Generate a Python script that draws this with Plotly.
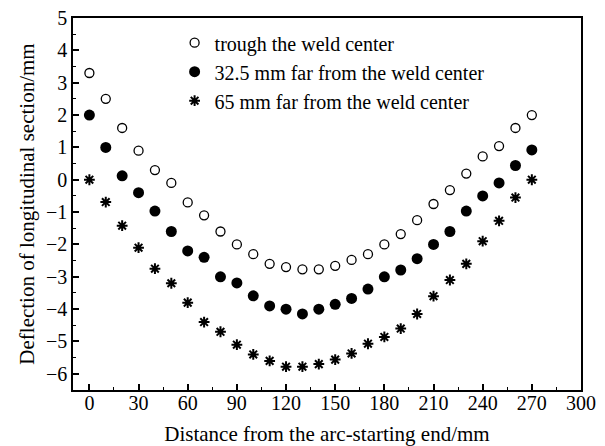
import plotly.graph_objects as go

# Distance from the arc-starting end (mm)
distance = list(range(0, 280, 10))

# Deflection of longitudinal section (mm)
through_center = [3.3, 2.5, 1.6, 0.9, 0.3, -0.1, -0.7, -1.1, -1.6, -2.0,
                  -2.3, -2.6, -2.7, -2.77, -2.77, -2.66, -2.48, -2.3, -2.0, -1.68,
                  -1.25, -0.75, -0.32, 0.19, 0.72, 1.04, 1.6, 2.0]
far_32_5 = [2.0, 1.0, 0.12, -0.4, -0.97, -1.6, -2.2, -2.4, -3.0, -3.19,
            -3.59, -3.9, -4.0, -4.15, -4.0, -3.85, -3.67, -3.38, -3.0, -2.79,
            -2.44, -2.0, -1.6, -0.97, -0.5, -0.1, 0.44, 0.92]
far_65 = [0.0, -0.69, -1.42, -2.1, -2.75, -3.2, -3.8, -4.4, -4.7, -5.1,
          -5.4, -5.6, -5.78, -5.78, -5.7, -5.56, -5.37, -5.07, -4.86, -4.6,
          -4.15, -3.6, -3.1, -2.6, -1.9, -1.27, -0.55, 0.0]

names = ["trough the weld center",
         "32.5 mm far from the weld center",
         "65 mm far from the weld center"]

x_ticks = list(range(0, 301, 30))
y_ticks = list(range(-6, 6))

FONT = "Liberation Serif, Times New Roman, serif"

fig = go.Figure()
fig.add_trace(go.Scatter(
    x=distance, y=through_center, mode="markers", name=names[0],
    marker=dict(symbol="circle-open", size=9, color="black", line=dict(width=1.3)),
))
fig.add_trace(go.Scatter(
    x=distance, y=far_32_5, mode="markers", name=names[1],
    marker=dict(symbol="circle", size=11, color="black"),
))
fig.add_trace(go.Scatter(
    x=distance, y=far_65, mode="markers", name=names[2],
    marker=dict(symbol="asterisk-open", size=9, color="black", line=dict(width=2, color="black")),
))

axis_common = dict(
    showline=True, linecolor="black", linewidth=1.5, mirror=True,
    ticks="inside", ticklen=6, tickwidth=1.5, tickcolor="black",
    showgrid=False, zeroline=False, automargin=False,
    tickfont=dict(family=FONT, size=20, color="black"),
    title_font=dict(family=FONT, size=21, color="black"),
)

fig.update_xaxes(
    range=[-10, 300], tickvals=x_ticks, ticklabelstandoff=-6,
    minor=dict(ticks="inside", ticklen=3, tickwidth=1.2, tickcolor="black", dtick=15, tick0=0),
    title_text="Distance from the arc-starting end/mm", title_standoff=20,
    **axis_common,
)
fig.update_yaxes(
    range=[-6.5, 5], tickvals=y_ticks,
    minor=dict(ticks="inside", ticklen=3, tickwidth=1.2, tickcolor="black", dtick=0.5, tick0=0),
    title_text="Deflection of longitudinal section/mm", title_standoff=6,
    **axis_common,
)

fig.update_layout(
    width=605, height=446,
    margin=dict(l=73, r=24, t=18, b=56),
    paper_bgcolor="white", plot_bgcolor="white",
    font=dict(family=FONT, size=20, color="black"),
    showlegend=True,
    legend=dict(
        x=0.2, y=0.986, xanchor="left", yanchor="top",
        bgcolor="rgba(0,0,0,0)", borderwidth=0,
        font=dict(family=FONT, size=20, color="black"),
        itemwidth=30, tracegroupgap=0,
    ),
)

fig.write_html("out.html")
